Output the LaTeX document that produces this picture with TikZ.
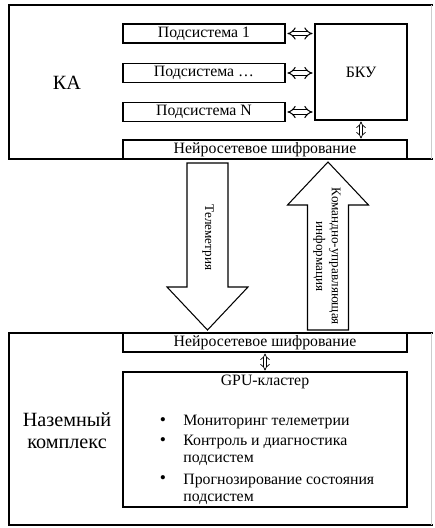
\documentclass[tikz,border=0pt]{standalone}
\usepackage{fontspec}
\setmainfont{Liberation Serif}
\usetikzlibrary{arrows.meta}

\begin{document}
\begin{tikzpicture}[
    x=0.02cm, y=-0.02cm,
    box/.style={rectangle, draw=black, thick, minimum height=0.38cm, inner sep=0pt, font=\fontsize{9}{10}\selectfont},
    subbox/.style={box, minimum width=3.24cm},
    widebox/.style={box, minimum width=5.68cm},
    dlink/.style={double, double distance=1.8pt, semithick, {Implies}-{Implies}, shorten >=1pt, shorten <=1pt},
    vlink/.style={double, double distance=1.5pt, thin, {Implies}-{Implies}, shorten >=0.5pt, shorten <=0.5pt},
    bigarrow/.style={draw=black, semithick, line join=miter},
    vtext/.style={rotate=-90, align=center, inner sep=0pt, font=\fontsize{7.5}{9}\selectfont},
    bigtext/.style={font=\fontsize{11.5}{12.5}\selectfont, align=center},
    listitem/.style={anchor=west, align=left, inner sep=0pt, font=\fontsize{9}{9.6}\selectfont},
]
\useasboundingbox (0,0) rectangle (435,528);

% KA frame
\draw[thick] (433,5) -- (9,5) -- (9,159) -- (433,159);
\draw[gray!40] (431,5) -- (431,159);
\node[bigtext] (ka) at (67,83) {КА};

\node[subbox] (sub1) at (204,33.5) {Подсистема 1};
\node[subbox] (subdots) at (204,73) {Подсистема …};
\node[subbox] (subn) at (204,112) {Подсистема N};
\node[box, minimum width=1.84cm, minimum height=1.92cm] (bku) at (361,72) {БКУ};
\node[widebox] (tenc) at (265,149.5) {Нейросетевое шифрование};

\foreach \s in {sub1,subdots,subn}{
  \draw[dlink] (\s.east) -- (\s.east -| bku.west);
}
\draw[vlink] (bku.south) -- (bku.south |- tenc.north);

% ground frame
\draw[thick] (433,333) -- (9,333) -- (9,525) -- (433,525);
\draw[gray!40] (431,333) -- (431,525);
\node[bigtext] (ground) at (67,431) {Наземный\\комплекс};

\node[widebox] (benc) at (265,342.5) {Нейросетевое шифрование};
\node[box, minimum width=5.68cm, minimum height=2.7cm] (gpu) at (265,439.5) {};
\node[font=\fontsize{9}{10}\selectfont] (gpuname) at (265,382) {GPU-кластер};
\draw[vlink] (benc.south) -- (gpu.north);

\foreach \y/\n in {422/1,442/2,480/3}{
  \node[font=\fontsize{10}{10}\selectfont] (dot\n) at (163,\y) {\textbullet};
}
\node[listitem] (item1) at (183,422) {Мониторинг телеметрии};
\node[listitem] (item2) at (183,450.5) {Контроль и диагностика\\подсистем};
\node[listitem] (item3) at (183,489) {Прогнозирование состояния\\подсистем};

% radio link
\draw[bigarrow] (187,163) -- (228,163) -- (228,287) -- (248,287) -- (207.5,330)
  -- (167,287) -- (187,287) -- cycle;
\draw[bigarrow] (307.5,330) -- (348.5,330) -- (348.5,205) -- (368.5,205) -- (328,162)
  -- (287.5,205) -- (307.5,205) -- cycle;
\node[vtext] (telemtext) at (208,237.5) {Телеметрия};
\node[vtext] (cmdtext) at (327,256.5) {Командно-управляющая\\информация};

\end{tikzpicture}
\end{document}
